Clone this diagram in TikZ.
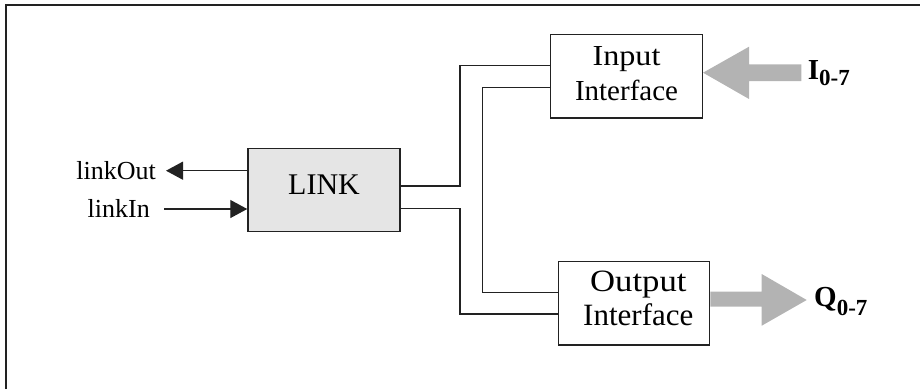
\documentclass[tikz,border=0pt]{standalone}
\usepackage{fontspec}
\setmainfont{Liberation Serif}
\usepackage{graphicx}
\usetikzlibrary{arrows.meta}
\definecolor{boxline}{HTML}{222222}
\definecolor{linkfill}{HTML}{E5E5E5}
\definecolor{bigarrow}{HTML}{B3B3B3}
\begin{document}
\begin{tikzpicture}[x=1pt,y=-1pt,
  blk/.style={draw=boxline, line width=1.5pt, inner sep=0pt},
  wire/.style={draw=boxline, line width=1.4pt},
  tip/.style={-{Triangle[length=17pt,width=18pt]}},
  fat/.style={fill=bigarrow},
  lbl/.style={inner sep=0pt, font=\fontsize{26}{30}\selectfont},
  sig/.style={inner sep=0pt, anchor=base west}]
\useasboundingbox (0,0) rectangle (920,389);
\draw[line width=2pt, boxline] (6,389) -- (6,4.5) -- (920,4.5);

\node[blk, fill=linkfill, minimum width=152pt, minimum height=83.4pt,
      text height=20pt, text depth=12pt, font=\fontsize{30}{36}\selectfont]
  (link) at (324,190) {LINK};

\node[blk, minimum width=151.6pt, minimum height=83.3pt, text height=55pt, text depth=7.6pt]
  (in) at (626.5,76.3)
  {\fontsize{29}{35}\selectfont\begin{tabular}[b]{@{}c@{}}\scalebox{1.11}[1]{Input}\\Interface\end{tabular}};

\node[blk, minimum width=151.4pt, minimum height=83.3pt, text height=53.4pt, text depth=10pt]
  (out) at (634,303.3)
  {\fontsize{31}{33.3}\selectfont\begin{tabular}[b]{@{\hspace{8.6pt}}c@{}}\scalebox{1.12}[1]{Output}\\Interface\end{tabular}};

\node[lbl, anchor=base east] (lout) at (156,179.3) {linkOut};
\node[lbl, anchor=base east] (lin) at (150,217.3) {linkIn};
\coordinate (outtip) at (166,170.7);
\coordinate (instart) at (164,209);
\draw[wire, tip] (link.west |- outtip) -- (outtip);
\draw[wire, tip] (instart) -- (link.west |- instart);

\draw[wire] (link.east |- 0,186) -| (460,65.7) -- (in.west |- 0,65.7);
\draw[wire] (in.west |- 0,87.7) -| (482.7,292.3) -- (out.west |- 0,292.3);
\draw[wire] (link.east |- 0,208.3) -| (460,314) -- (out.west |- 0,314);

\node[sig] (sI) at (807.7,79)
  {\fontsize{29}{30}\selectfont\bfseries I\raisebox{-6.7pt}{\fontsize{23}{24}\selectfont 0-7}};
\node[sig] (sQ) at (814,306.3)
  {\fontsize{29}{30}\selectfont\bfseries Q\raisebox{-9pt}{\fontsize{23}{24}\selectfont 0-7}};

\fill[fat] (in.east |- 0,72.7) -- ++(46,-26) -- ++(0,17.6) -- ++(52.4,0) -- ++(0,16.7)
  -- ++(-52.4,0) -- ++(0,18) -- cycle;
\fill[fat] (out.east |- 0,291.7) -- (761.7,291.7) -- (761.7,274) -- (806.7,300)
  -- (761.7,325.7) -- (761.7,306.7) -- (out.east |- 0,306.7) -- cycle;
\end{tikzpicture}
\end{document}
